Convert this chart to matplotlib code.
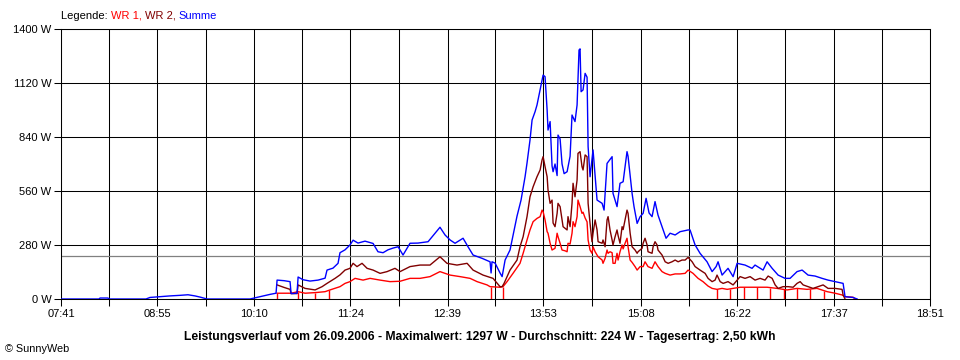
"""
Leistungsverlauf SunnyWeb, 26.09.2006
"""
import matplotlib

matplotlib.use("Agg")
import matplotlib.pyplot as plt
import numpy as np

plt.rcParams["font.family"] = ["Liberation Sans", "DejaVu Sans"]

# Achsen
tick_labels = ["07:41", "08:55", "10:10", "11:24", "12:39", "13:53", "15:08", "16:22", "17:37", "18:51"]
y_ticks = [0, 280, 560, 840, 1120, 1400]

# Kennzahlen
datum = "26.09.2006"
max_w = 1297
avg_w = 224
ertrag_kwh = "2,50"

# Zeit in Minuten seit Mitternacht, Leistung in W
summe_min = [461.0, 490.3, 491.1, 497.2, 498.0, 526.5, 529.6, 537.3, 545.0, 552.8, 558.9, 564.3, 568.2, 572.0, 573.6,
             606.7, 610.6, 616.0, 622.2, 626.8, 627.6, 633.0, 637.6, 638.4, 643.0, 643.8, 647.6, 653.0, 659.2, 664.6,
             666.1, 670.7, 674.6, 676.1, 680.0, 683.8, 686.2, 690.0, 695.4, 701.6, 705.4, 709.3, 713.1, 717.0, 720.9,
             724.7, 730.1, 736.3, 744.0, 749.4, 753.2, 757.1, 761.0, 764.8, 771.0, 774.8, 778.7, 785.6, 791.8, 792.6,
             793.3, 795.7, 799.5, 801.1, 803.4, 807.2, 809.5, 812.6, 815.7, 818.8, 820.3, 822.6, 824.2, 826.5, 828.0,
             829.6, 831.9, 832.7, 834.2, 835.8, 836.5, 838.1, 839.6, 840.4, 841.9, 843.5, 844.2, 845.8, 847.3, 848.9,
             851.2, 853.5, 855.0, 857.3, 858.9, 860.4, 861.2, 862.0, 863.5, 865.1, 866.6, 867.4, 868.9, 871.2, 874.3,
             878.2, 879.7, 882.0, 885.9, 886.6, 889.7, 892.0, 894.4, 897.4, 898.2, 901.3, 902.8, 905.2, 907.5, 909.8,
             912.1, 914.4, 916.7, 919.0, 921.3, 924.4, 927.5, 930.6, 934.5, 938.3, 944.5, 946.0, 949.9, 953.7, 959.1,
             963.0, 966.1, 967.6, 970.7, 975.3, 979.2, 982.3, 988.4, 993.8, 996.1, 1002.3, 1005.4, 1009.3, 1013.9,
             1019.3, 1023.1, 1028.5, 1032.4, 1037.0, 1042.4, 1047.8, 1052.4, 1057.8, 1064.0, 1065.5, 1071.7, 1074.8]
summe_w = [0, 0, 5, 5, 0, 0, 8, 12, 16, 19, 22, 16, 10, 3, 0,
           0, 6, 14, 24, 30, 98, 95, 90, 28, 30, 114, 100, 93, 98, 108,
           150, 160, 185, 240, 255, 280, 305, 290, 300, 288, 245, 240, 255, 264, 271,
           228, 289, 290, 297, 341, 372, 332, 306, 289, 315, 271, 228, 211, 193, 135,
           193, 186, 135, 116, 202, 254, 330, 430, 513, 634, 705, 824, 928, 971, 1006,
           1058, 1135, 1161, 1153, 980, 876, 920, 690, 660, 700, 640, 850, 830, 700, 650,
           660, 740, 954, 920, 1006, 1291, 1297, 1075, 1084, 1170, 1150, 790, 634, 773, 513,
           496, 461, 703, 738, 548, 479, 600, 608, 764, 740, 548, 479, 392, 427, 444,
           522, 446, 427, 505, 435, 375, 315, 341, 332, 349, 358, 358, 280, 237, 193,
           142, 168, 193, 124, 159, 116, 185, 176, 159, 176, 150, 193, 159, 124,
           107, 107, 142, 150, 124, 119, 107, 98, 90, 81, 12, 8, 0]

wr2_min = [627.6, 633.0, 637.6, 638.4, 643.0, 643.8, 649.2, 656.9, 662.3, 666.1, 672.3, 676.1, 680.0, 683.8, 686.2,
           689.2, 693.1, 697.0, 701.6, 707.0, 712.4, 718.5, 722.4, 730.1, 737.8, 745.5, 753.2, 758.6, 766.3, 774.1,
           778.7, 786.4, 794.1, 799.5, 801.1, 802.6, 807.2, 812.6, 814.9, 817.3, 820.3, 822.6, 825.0, 828.0, 830.4,
           831.9, 832.7, 834.2, 835.8, 836.5, 838.1, 839.6, 840.4, 841.9, 843.5, 844.2, 845.8, 847.3, 848.1, 851.2,
           851.9, 853.5, 855.0, 855.8, 857.3, 858.9, 859.6, 861.2, 862.7, 863.5, 865.1, 866.6, 867.4, 868.9, 870.4,
           871.2, 872.8, 874.3, 875.1, 878.2, 878.9, 880.5, 882.0, 882.8, 884.3, 885.9, 886.6, 888.2, 889.7, 890.5,
           892.0, 893.6, 894.4, 895.9, 897.4, 898.2, 899.8, 901.3, 903.6, 905.2, 905.9, 909.0, 909.8, 911.3, 912.9,
           913.6, 916.7, 917.5, 919.0, 920.6, 921.3, 924.4, 926.8, 929.1, 932.1, 934.5, 936.8, 939.8, 942.2, 944.5,
           947.6, 949.9, 953.7, 957.6, 959.9, 963.0, 965.3, 966.8, 969.2, 971.5, 975.3, 979.2, 982.3, 984.6, 988.4,
           992.3, 996.1, 1000.0, 1003.8, 1006.2, 1009.3, 1011.6, 1013.9, 1017.7, 1021.6, 1025.5, 1028.5, 1030.9,
           1033.2, 1037.0, 1040.8, 1044.7, 1048.6, 1052.4, 1057.8, 1063.2, 1064.0, 1065.5]
wr2_w = [73, 60, 50, 28, 28, 73, 55, 47, 64, 81, 107, 125, 150, 159, 185,
         168, 185, 159, 150, 133, 142, 159, 142, 168, 176, 176, 219, 185, 176, 185,
         150, 124, 107, 64, 64, 81, 150, 202, 271, 323, 427, 530, 582, 634, 669,
         721, 738, 686, 634, 565, 496, 513, 394, 375, 444, 496, 479, 410, 375, 358,
         427, 375, 496, 600, 530, 617, 755, 764, 686, 669, 747, 738, 496, 392, 297,
         341, 410, 358, 297, 289, 306, 271, 410, 427, 358, 306, 280, 323, 358, 330,
         289, 375, 360, 410, 461, 444, 341, 271, 254, 237, 245, 263, 289, 315, 280,
         245, 237, 271, 297, 280, 254, 228, 193, 185, 193, 202, 193, 202, 202, 216,
         193, 168, 150, 133, 107, 90, 98, 124, 90, 81, 90, 73, 98, 116, 107,
         116, 98, 107, 98, 119, 107, 73, 55, 64, 64, 61, 81, 90,
         73, 64, 55, 64, 73, 55, 55, 50, 21, 0]

wr1_min = [627.6, 638.4, 643.8, 649.2, 656.9, 664.6, 668.4, 676.1, 680.0, 683.8, 687.7, 693.9, 699.3, 707.0, 714.7,
           722.4, 730.1, 737.8, 745.5, 753.2, 761.0, 768.7, 776.4, 781.8, 789.5, 791.8, 799.5, 801.8, 804.9, 809.5,
           814.9, 817.3, 820.3, 822.6, 825.0, 828.0, 830.4, 831.9, 832.7, 834.2, 835.8, 836.5, 838.1, 839.6, 841.9,
           843.5, 844.2, 845.8, 847.3, 849.6, 851.2, 851.9, 853.5, 855.0, 855.8, 857.3, 858.9, 859.6, 861.2, 862.7,
           863.5, 865.1, 866.6, 867.4, 868.9, 870.4, 871.2, 872.8, 875.1, 878.2, 878.9, 880.5, 882.0, 882.8, 884.3,
           885.9, 886.6, 888.2, 889.7, 890.5, 892.0, 893.6, 894.4, 895.9, 897.4, 898.2, 899.8, 901.3, 903.6, 905.2,
           907.5, 909.8, 911.3, 913.6, 916.7, 919.0, 921.3, 924.4, 926.8, 930.6, 934.5, 938.3, 942.2, 944.5, 948.3,
           952.2, 956.0, 959.9, 963.0, 966.8, 970.7, 974.6, 979.2, 984.6, 994.6, 1005.4, 1013.1, 1020.8, 1028.5,
           1036.2, 1043.9, 1051.7, 1057.8, 1063.2, 1065.5, 1071.7, 1073.2]
wr1_w = [30, 30, 38, 30, 33, 38, 47, 64, 81, 90, 107, 98, 107, 98, 90,
         92, 107, 107, 116, 142, 124, 116, 107, 90, 73, 64, 61, 64, 90, 133,
         185, 237, 306, 358, 401, 418, 427, 461, 453, 410, 349, 341, 289, 254, 263,
         341, 323, 289, 254, 250, 245, 289, 285, 341, 401, 375, 427, 513, 479, 444,
         450, 420, 400, 306, 254, 237, 271, 245, 219, 202, 185, 211, 254, 237, 245,
         240, 185, 185, 237, 202, 245, 280, 260, 289, 315, 271, 202, 190, 168, 150,
         168, 168, 193, 168, 159, 193, 168, 142, 133, 124, 130, 130, 133, 150, 133,
         107, 90, 67, 55, 50, 55, 50, 55, 61, 61, 61, 55, 47, 55,
         50, 55, 38, 30, 21, 12, 9, 0]

# kurze Einbrüche von WR 1 auf 0 W
wr1_ausfall_min = [627.6, 643.8, 656.9, 667.7, 792.6, 801.8, 966.8, 976.9, 987.7, 997.7, 1007.7, 1018.5, 1028.5,
                   1038.6, 1049.3]


def to_min(s):
    h, m = s.split(":")
    return int(h) * 60 + int(m)


major = np.array([to_min(s) for s in tick_labels], dtype=float)
minor = (major[:-1] + major[1:]) / 2

fig = plt.figure(figsize=(9.6, 3.6), dpi=100)
ax = fig.add_axes([61 / 960, 1 - 299 / 360, 869 / 960, 270 / 360])

ax.set_xlim(major[0], major[-1])
ax.set_ylim(y_ticks[0], y_ticks[-1])
ax.set_xticks(major, labels=tick_labels)
ax.set_xticks(minor, minor=True)
ax.set_yticks(y_ticks, labels=[f"{v} W" for v in y_ticks])
ax.tick_params(which="both", direction="out", length=5, width=0.75, labelsize=8, pad=2)
ax.grid(axis="x", which="both", color="black", lw=0.75)
ax.grid(axis="y", which="major", color="black", lw=0.75)
ax.set_axisbelow(True)
for sp in ax.spines.values():
    sp.set_linewidth(0.75)

ax.axhline(avg_w, color="#808080", lw=0.9, zorder=2)

lw = 1.0
ax.plot(wr1_min, wr1_w, color="#ff0000", lw=lw, zorder=3)
ax.vlines(wr1_ausfall_min, 0, np.interp(wr1_ausfall_min, wr1_min, wr1_w), color="#ff0000", lw=lw, zorder=3)
ax.plot(wr2_min, wr2_w, color="#800000", lw=lw, zorder=4)
ax.plot(summe_min, summe_w, color="#0000ff", lw=lw, zorder=5)

# Legende als farbige Textstücke
renderer = fig.canvas.get_renderer()
x0 = 61 / 960
for txt, col in [("Legende: ", "black"), ("WR 1, ", "#ff0000"), ("WR 2, ", "#800000"), ("Summe", "#0000ff")]:
    t = fig.text(x0, 1 - 16 / 360, txt, color=col, fontsize=8, va="center")
    x0 += t.get_window_extent(renderer).width / 960

titel = (f"Leistungsverlauf vom {datum} - Maximalwert: {max_w} W - "
         f"Durchschnitt: {avg_w} W - Tagesertrag: {ertrag_kwh} kWh")
fig.text(0.5, 1 - 337 / 360, titel, ha="center", va="center", fontsize=8.7, fontweight="bold")
fig.text(5 / 960, 1 - 349 / 360, "© SunnyWeb", fontsize=7.8, va="center")

fig.savefig("out.png", dpi=100, facecolor="white")
